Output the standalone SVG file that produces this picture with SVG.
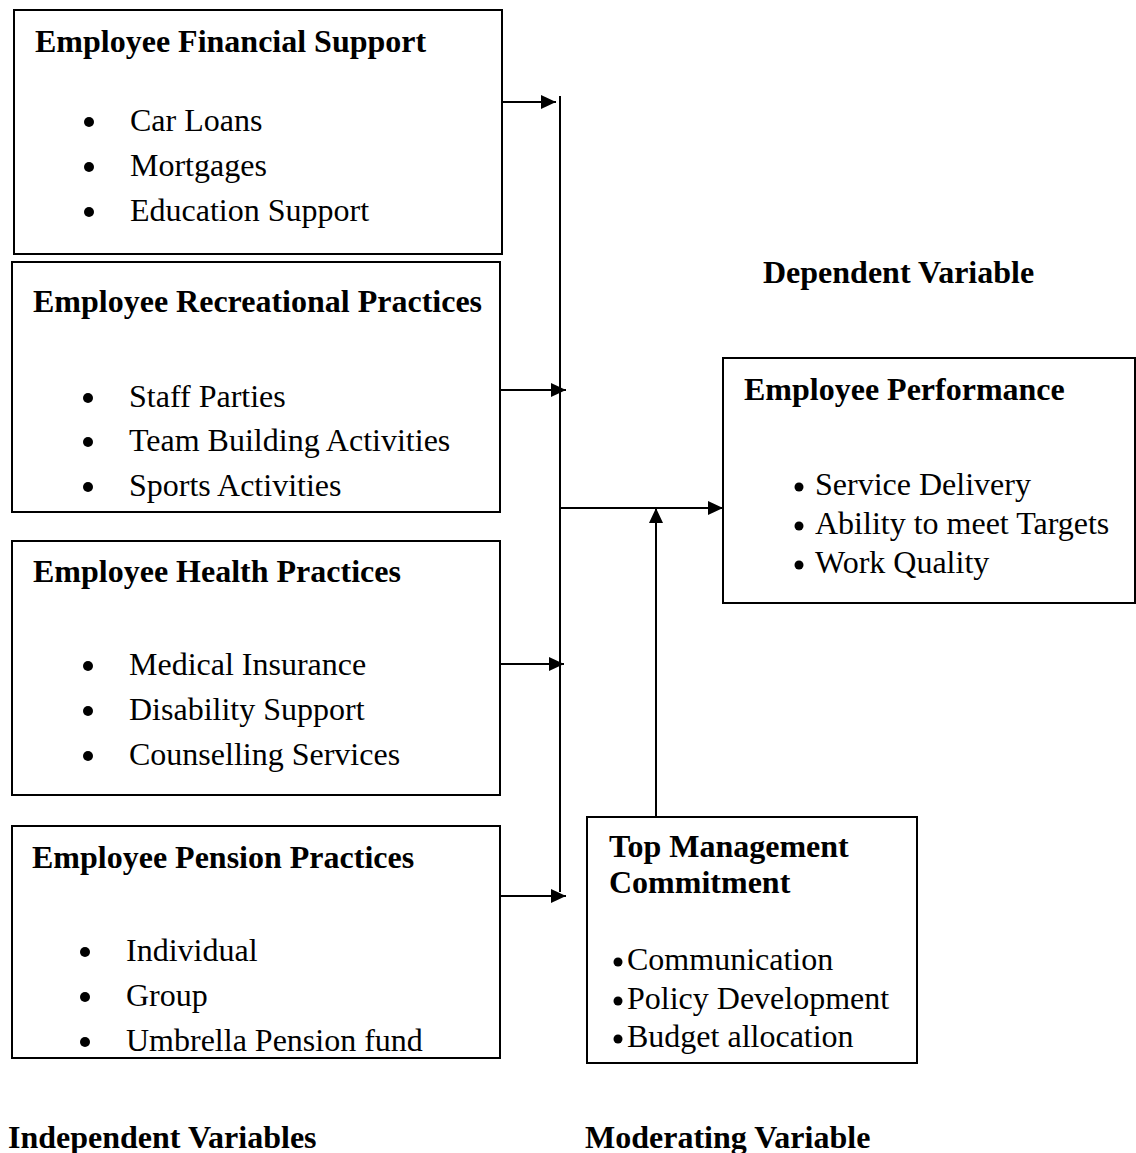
<svg xmlns="http://www.w3.org/2000/svg" width="1136" height="1153" viewBox="0 0 1136 1153">
  <style>
    .box { fill: #ffffff; stroke: #000000; stroke-width: 2; }
    .title { font-family: "Liberation Serif", "Times New Roman", serif; font-weight: bold; font-size: 32px; fill: #000; }
    .item { font-family: "Liberation Serif", "Times New Roman", serif; font-size: 32px; fill: #000; }
    .label { font-family: "Liberation Serif", "Times New Roman", serif; font-weight: bold; font-size: 32px; fill: #000; }
    .dot { fill: #000; }
    .wire { fill: none; stroke: #000; stroke-width: 2; }
  </style>
  <defs>
    <marker id="arrow" markerUnits="userSpaceOnUse" markerWidth="16" markerHeight="14" refX="15" refY="7" orient="auto">
      <path d="M0,0 L15,7 L0,14 z" fill="#000"/>
    </marker>
  </defs>
  <rect width="1136" height="1153" fill="#ffffff"/>

  <!-- Independent variable boxes -->
  <g id="financial-support">
    <rect class="box" x="14" y="10" width="488" height="244"/>
    <text class="title" x="35" y="52">Employee Financial Support</text>
    <circle class="dot" cx="89" cy="122" r="5"/>
    <text class="item" x="130" y="131">Car Loans</text>
    <circle class="dot" cx="89" cy="167" r="5"/>
    <text class="item" x="130" y="176">Mortgages</text>
    <circle class="dot" cx="89" cy="212" r="5"/>
    <text class="item" x="130" y="221">Education Support</text>
  </g>

  <g id="recreational-practices">
    <rect class="box" x="12" y="262" width="488" height="250"/>
    <text class="title" x="33" y="312">Employee Recreational Practices</text>
    <circle class="dot" cx="88" cy="398" r="5"/>
    <text class="item" x="129" y="407">Staff Parties</text>
    <circle class="dot" cx="88" cy="442" r="5"/>
    <text class="item" x="129" y="451">Team Building Activities</text>
    <circle class="dot" cx="88" cy="487" r="5"/>
    <text class="item" x="129" y="496">Sports Activities</text>
  </g>

  <g id="health-practices">
    <rect class="box" x="12" y="541" width="488" height="254"/>
    <text class="title" x="33" y="582">Employee Health Practices</text>
    <circle class="dot" cx="88" cy="666" r="5"/>
    <text class="item" x="129" y="675">Medical Insurance</text>
    <circle class="dot" cx="88" cy="711" r="5"/>
    <text class="item" x="129" y="720">Disability Support</text>
    <circle class="dot" cx="88" cy="756" r="5"/>
    <text class="item" x="129" y="765">Counselling Services</text>
  </g>

  <g id="pension-practices">
    <rect class="box" x="12" y="826" width="488" height="232"/>
    <text class="title" x="32" y="868">Employee Pension Practices</text>
    <circle class="dot" cx="85" cy="952" r="5"/>
    <text class="item" x="126" y="961">Individual</text>
    <circle class="dot" cx="85" cy="997" r="5"/>
    <text class="item" x="126" y="1006">Group</text>
    <circle class="dot" cx="85" cy="1042" r="5"/>
    <text class="item" x="126" y="1051">Umbrella Pension fund</text>
  </g>

  <!-- Dependent variable box -->
  <g id="employee-performance">
    <rect class="box" x="723" y="358" width="412" height="245"/>
    <text class="title" x="744" y="400">Employee Performance</text>
    <circle class="dot" cx="799" cy="487" r="4.5"/>
    <text class="item" x="815" y="495">Service Delivery</text>
    <circle class="dot" cx="799" cy="526" r="4.5"/>
    <text class="item" x="815" y="534">Ability to meet Targets</text>
    <circle class="dot" cx="799" cy="565" r="4.5"/>
    <text class="item" x="815" y="573">Work Quality</text>
  </g>

  <!-- Moderating variable box -->
  <g id="top-management">
    <rect class="box" x="587" y="817" width="330" height="246"/>
    <text class="title" x="609" y="857">Top Management</text>
    <text class="title" x="609" y="893">Commitment</text>
    <circle class="dot" cx="618" cy="962" r="4.5"/>
    <text class="item" x="627" y="970">Communication</text>
    <circle class="dot" cx="618" cy="1001" r="4.5"/>
    <text class="item" x="627" y="1009">Policy Development</text>
    <circle class="dot" cx="618" cy="1039" r="4.5"/>
    <text class="item" x="627" y="1047">Budget allocation</text>
  </g>

  <!-- Section labels -->
  <g id="labels">
    <text class="label" x="763" y="283">Dependent Variable</text>
    <text class="label" x="8" y="1148">Independent Variables</text>
    <text class="label" x="585" y="1148">Moderating Variable</text>
  </g>

  <!-- Connectors -->
  <g id="connectors">
    <line class="wire" x1="560" y1="96" x2="560" y2="892"/>
    <line class="wire" x1="502" y1="102" x2="556" y2="102" marker-end="url(#arrow)"/>
    <line class="wire" x1="500" y1="390" x2="566" y2="390" marker-end="url(#arrow)"/>
    <line class="wire" x1="500" y1="664" x2="564" y2="664" marker-end="url(#arrow)"/>
    <line class="wire" x1="500" y1="896" x2="566" y2="896" marker-end="url(#arrow)"/>
    <line class="wire" x1="560" y1="508" x2="723" y2="508" marker-end="url(#arrow)"/>
    <line class="wire" x1="656" y1="817" x2="656" y2="508" marker-end="url(#arrow)"/>
  </g>
</svg>
